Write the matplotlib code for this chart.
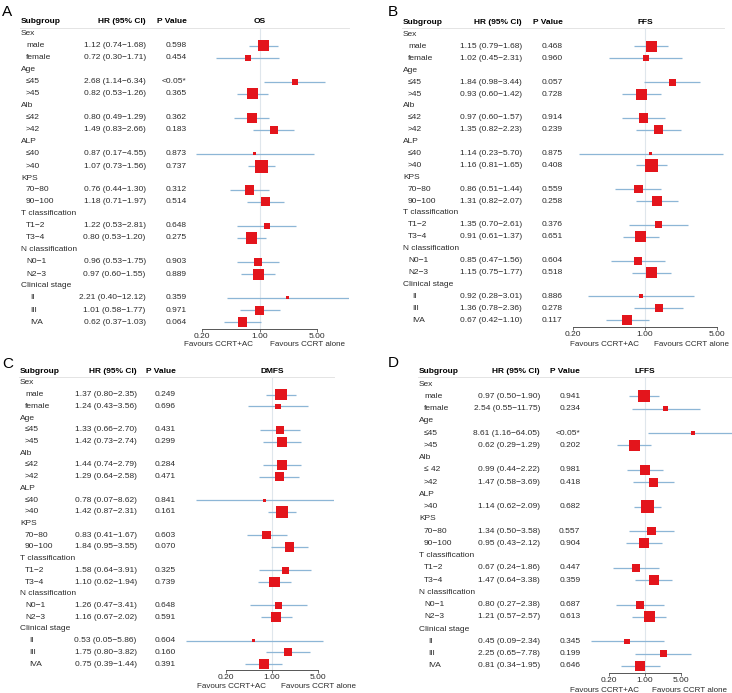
import numpy as np
import matplotlib
matplotlib.use("Agg")
import matplotlib.pyplot as plt

plt.rcParams['font.family'] = ['Liberation Sans', 'DejaVu Sans']

# ---- data ----
groups_abc = [("Sex", ["male", "female"]),
              ("Age", ["≤45", ">45"]),
              ("Alb", ["≤42", ">42"]),
              ("ALP", ["≤40", ">40"]),
              ("KPS", ["70−80", "90−100"]),
              ("T classification", ["T1−2", "T3−4"]),
              ("N classification", ["N0−1", "N2−3"]),
              ("Clinical stage", ["II", "III", "IVA"])]
groups_d = [("Sex", ["male", "female"]),
            ("Age", ["≤45", ">45"]),
            ("Alb", ["≤ 42", ">42"]),
            ("ALP", [">40"]),
            ("KPS", ["70−80", "90−100"]),
            ("T classification", ["T1−2", "T3−4"]),
            ("N classification", ["N0−1", "N2−3"]),
            ("Clinical stage", ["II", "III", "IVA"])]

hr_os = [1.12, 0.72, 2.68, 0.82, 0.80, 1.49, 0.87, 1.07, 0.76, 1.18, 1.22, 0.80, 0.96, 0.97, 2.21, 1.01, 0.62]
lo_os = [0.74, 0.30, 1.14, 0.53, 0.49, 0.83, 0.17, 0.73, 0.44, 0.71, 0.53, 0.53, 0.53, 0.60, 0.40, 0.58, 0.37]
hi_os = [1.68, 1.71, 6.34, 1.26, 1.29, 2.66, 4.55, 1.56, 1.30, 1.97, 2.81, 1.20, 1.75, 1.55, 12.12, 1.77, 1.03]
p_os = ["0.598", "0.454", "<0.05*", "0.365", "0.362", "0.183", "0.873", "0.737", "0.312", "0.514",
        "0.648", "0.275", "0.903", "0.889", "0.359", "0.971", "0.064"]
w_os = [11, 5.5, 6, 11, 10, 8, 3, 13, 9.5, 9, 6, 11.5, 8, 11, 3, 9, 9.5]

hr_ffs = [1.15, 1.02, 1.84, 0.93, 0.97, 1.35, 1.14, 1.16, 0.86, 1.31, 1.35, 0.91, 0.85, 1.15, 0.92, 1.36, 0.67]
lo_ffs = [0.79, 0.45, 0.98, 0.60, 0.60, 0.82, 0.23, 0.81, 0.51, 0.82, 0.70, 0.61, 0.47, 0.75, 0.28, 0.78, 0.42]
hi_ffs = [1.68, 2.31, 3.44, 1.42, 1.57, 2.23, 5.70, 1.65, 1.44, 2.07, 2.61, 1.37, 1.56, 1.77, 3.01, 2.36, 1.10]
p_ffs = ["0.468", "0.960", "0.057", "0.728", "0.914", "0.239", "0.875", "0.408", "0.559", "0.258",
         "0.376", "0.651", "0.604", "0.518", "0.886", "0.278", "0.117"]
w_ffs = [11, 6, 7, 11, 9.5, 9.5, 3, 12.5, 8.5, 10, 7, 11, 8, 10.5, 4, 8, 9.5]

hr_dmfs = [1.37, 1.24, 1.33, 1.42, 1.44, 1.29, 0.78, 1.42, 0.83, 1.84, 1.58, 1.10, 1.26, 1.16, 0.53, 1.75, 0.75]
lo_dmfs = [0.80, 0.43, 0.66, 0.73, 0.74, 0.64, 0.07, 0.87, 0.41, 0.95, 0.64, 0.62, 0.47, 0.67, 0.05, 0.80, 0.39]
hi_dmfs = [2.35, 3.56, 2.70, 2.74, 2.79, 2.58, 8.62, 2.31, 1.67, 3.55, 3.91, 1.94, 3.41, 2.02, 5.86, 3.82, 1.44]
p_dmfs = ["0.249", "0.696", "0.431", "0.299", "0.284", "0.471", "0.841", "0.161", "0.603", "0.070",
          "0.325", "0.739", "0.648", "0.591", "0.604", "0.160", "0.391"]
w_dmfs = [11.5, 5.5, 8, 10, 10, 9, 3, 12.5, 8.5, 9.5, 7, 10.5, 6.5, 10.5, 3, 8, 9.5]

hr_lffs = [0.97, 2.54, 8.61, 0.62, 0.99, 1.47, 1.14, 1.34, 0.95, 0.67, 1.47, 0.80, 1.21, 0.45, 2.25, 0.81]
lo_lffs = [0.50, 0.55, 1.16, 0.29, 0.44, 0.58, 0.62, 0.50, 0.43, 0.24, 0.64, 0.27, 0.57, 0.09, 0.65, 0.34]
hi_lffs = [1.90, 11.75, 64.05, 1.29, 2.22, 3.69, 2.09, 3.58, 2.12, 1.86, 3.38, 2.38, 2.57, 2.34, 7.78, 1.95]
p_lffs = ["0.941", "0.234", "<0.05*", "0.202", "0.981", "0.418", "0.682", "0.557", "0.904", "0.447",
          "0.359", "0.687", "0.613", "0.345", "0.199", "0.646"]
w_lffs = [12, 5, 4, 11, 10, 9, 13, 8.5, 10, 8, 10, 8, 11, 5.5, 7, 10]

W, H = 732, 693
RED = '#e3151c'
BLUE = '#8db6d6'
TXT = '#2b2b2b'
FS = 6


def rect(l, t, r, b):
    return [l / W, 1 - b / H, (r - l) / W, (b - t) / H]


def forest_panel(fig, letter, title, groups, hr, lo, hi, pv, wt, lay):
    step = lay['step']
    hdr = lay['first'] - step
    nax = (lay['axis'] - hdr) / step

    # table part (x in pixels)
    tab = fig.add_axes(rect(lay['x0'], hdr, lay['x1'], lay['axis']))
    tab.set_xlim(lay['x0'], lay['x1'])
    tab.set_ylim(nax, 0)
    tab.axis('off')

    tab.text(lay['lab'], 0, "Subgroup", fontsize=FS, fontweight='bold', va='center', ha='left')
    tab.text(lay['hr'], 0, "HR (95% CI)", fontsize=FS, fontweight='bold', va='center', ha='right')
    tab.text(lay['p'], 0, "P Value", fontsize=FS, fontweight='bold', va='center', ha='right')
    tab.plot([lay['lab'] - 1, lay['fr']], [0.46, 0.46], color='#e4e4e4', lw=0.7)

    rows = []
    r = 1
    for grp, subs in groups:
        tab.text(lay['lab'], r, grp, fontsize=FS, color=TXT, va='center', ha='left')
        r += 1
        for s in subs:
            ind = 9 if grp == "Clinical stage" else 5
            tab.text(lay['lab'] + ind, r, s, fontsize=FS, color=TXT, va='center', ha='left')
            rows.append(r)
            r += 1
    rows = np.array(rows)

    for i, y in enumerate(rows):
        tab.text(lay['hr'], y, f"{hr[i]:.2f} ({lo[i]:.2f}−{hi[i]:.2f})", fontsize=FS, color=TXT,
                 va='center', ha='right')
        tab.text(lay['p'], y, pv[i], fontsize=FS, color=TXT, va='center', ha='right')

    fig.text(lay['lx'] / W, 1 - lay['ly'] / H, letter, fontsize=11, ha='left', va='baseline')

    # forest part
    ax = fig.add_axes(rect(lay['fl'], hdr, lay['fr'], lay['axis']))
    s = (lay['x5'] - lay['x02']) / np.log(25)
    x1px = lay['x02'] + s * np.log(5)
    ax.set_xscale('log')
    ax.set_xlim(np.exp((lay['fl'] - x1px) / s), np.exp((lay['fr'] - x1px) / s))
    ax.set_ylim(nax, 0)
    ax.patch.set_alpha(0)

    ax.plot([1, 1], [0.46, nax], color='#dfe6ec', lw=0.8, zorder=0)
    ax.hlines(rows, lo, hi, color=BLUE, lw=0.9, zorder=1)
    ax.scatter(hr, rows, s=(np.array(wt) * 0.72) ** 2, marker='s', color=RED, linewidths=0, zorder=2)
    ax.text(1, 0, title, fontsize=FS, fontweight='bold', ha='center', va='center')

    for sp in ['top', 'right', 'left']:
        ax.spines[sp].set_visible(False)
    ax.spines['bottom'].set_bounds(0.2, 5)
    ax.spines['bottom'].set_color('#555555')
    ax.spines['bottom'].set_linewidth(0.7)
    ax.set_yticks([])
    ax.set_xticks([0.2, 1, 5])
    ax.set_xticklabels(["0.20", "1.00", "5.00"])
    ax.xaxis.set_minor_locator(matplotlib.ticker.NullLocator())
    ax.tick_params(axis='x', length=2.5, width=0.6, color='#555555', labelsize=FS, pad=0.5,
                   labelcolor=TXT)

    fav_dy = lay['fav'] - lay['axis']
    ax.annotate("Favours CCRT+AC", xy=(1, 0), xycoords=('data', 'axes fraction'),
                xytext=(-6, -fav_dy), textcoords='offset pixels', fontsize=5.8, color=TXT,
                ha='right', va='center', annotation_clip=False)
    ax.annotate("Favours CCRT alone", xy=(1, 0), xycoords=('data', 'axes fraction'),
                xytext=(lay['fo'], -fav_dy), textcoords='offset pixels', fontsize=5.8, color=TXT,
                ha='left', va='center', annotation_clip=False)


fig = plt.figure(figsize=(W / 100, H / 100), dpi=100)

lay_a = dict(x0=0, x1=366, lab=21, hr=145.7, p=186.7, x02=202, x5=317, first=34, step=12.0,
             axis=329, fl=190, fr=349, fav=345, fo=11, lx=2, ly=16)
lay_b = dict(x0=366, x1=732, lab=403, hr=522, p=562.7, x02=573, x5=717, first=34.5, step=11.9,
             axis=327, fl=565, fr=724, fav=345, fo=9, lx=388, ly=16)
lay_c = dict(x0=0, x1=366, lab=20, hr=136.7, p=176, x02=226, x5=318, first=383, step=11.71,
             axis=670, fl=180, fr=334, fav=687, fo=9, lx=2, ly=368)
lay_d = dict(x0=366, x1=732, lab=419, hr=540, p=580.3, x02=609, x5=681, first=384, step=12.26,
             axis=673, fl=583, fr=732, fav=690, fo=7, lx=388, ly=367)

forest_panel(fig, "A", "OS", groups_abc, hr_os, lo_os, hi_os, p_os, w_os, lay_a)
forest_panel(fig, "B", "FFS", groups_abc, hr_ffs, lo_ffs, hi_ffs, p_ffs, w_ffs, lay_b)
forest_panel(fig, "C", "DMFS", groups_abc, hr_dmfs, lo_dmfs, hi_dmfs, p_dmfs, w_dmfs, lay_c)
forest_panel(fig, "D", "LFFS", groups_d, hr_lffs, lo_lffs, hi_lffs, p_lffs, w_lffs, lay_d)

fig.savefig("out.png", dpi=100)
